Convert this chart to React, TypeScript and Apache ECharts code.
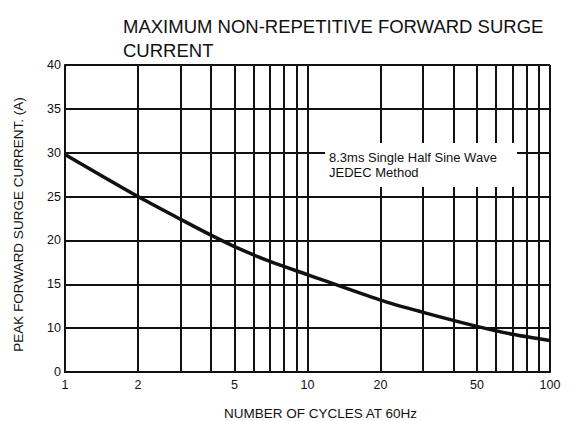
import React, { useEffect, useRef } from "react";
import * as echarts from "echarts";

const cycles = [1, 2, 3, 4, 5, 7, 10, 20, 30, 50, 70, 100];
const surgeCurrent = [29.8, 25.0, 22.4, 20.6, 19.3, 17.6, 16.1, 13.2, 11.8, 10.2, 9.3, 8.6];
const xTickLabels = [1, 2, 5, 10, 20, 50, 100];
const xGridValues = [2, 3, 4, 5, 6, 7, 8, 9, 10, 20, 30, 40, 50, 60, 70, 80, 90, 100];
const yTicks = [5, 10, 15, 20, 25, 30, 35, 40];
const yTickLabels = ["0", "10", "15", "20", "25", "30", "35", "40"];

const FONT = "'Liberation Sans', Arial, sans-serif";
const INK = "#111";

export default function App() {
  const ref = useRef<HTMLDivElement>(null);
  useEffect(() => {
    document.body.style.margin = "0";
    if (!ref.current) return;
    const chart = echarts.init(ref.current, undefined, { renderer: "svg" });
    chart.setOption({
      animation: false,
      backgroundColor: "#fff",
      textStyle: { fontFamily: FONT },
      grid: { left: 65, right: 25, top: 65, bottom: 49, outerBoundsMode: "none", containLabel: false },
      title: {
        text: "MAXIMUM NON-REPETITIVE FORWARD SURGE\nCURRENT",
        left: 118,
        top: 9,
        textStyle: {
          fontFamily: FONT,
          fontSize: 18.5,
          fontWeight: "normal",
          color: INK,
          lineHeight: 24,
        },
      },
      xAxis: {
        type: "log",
        logBase: 10,
        min: 1,
        max: 100,
        name: "NUMBER OF CYCLES AT 60Hz",
        nameLocation: "middle",
        nameGap: 34,
        nameTextStyle: { fontFamily: FONT, fontSize: 13.5, color: INK, padding: [0, 0, 0, 26] },
        axisLine: { lineStyle: { color: INK, width: 2 } },
        axisTick: { show: false },
        splitLine: { show: false },
        minorSplitLine: { show: false },
        axisLabel: {
          customValues: xTickLabels,
          fontFamily: FONT,
          fontSize: 12.5,
          color: INK,
          margin: 6,
        },
      },
      yAxis: {
        type: "value",
        min: 5,
        max: 40,
        interval: 5,
        name: "PEAK FORWARD SURGE CURRENT. (A)",
        nameLocation: "middle",
        nameGap: 40,
        nameTextStyle: { fontFamily: FONT, fontSize: 13.5, color: INK, padding: [0, 12, 0, 0] },
        axisLine: { show: true, lineStyle: { color: INK, width: 2 } },
        axisTick: { show: false },
        splitLine: { show: true, lineStyle: { color: INK, width: 2 } },
        axisLabel: {
          fontFamily: FONT,
          fontSize: 12.5,
          color: INK,
          margin: 4,
          formatter: (v: number) => {
            const i = yTicks.indexOf(v);
            return i >= 0 ? yTickLabels[i] : "";
          },
        },
      },
      series: [
        {
          type: "line",
          smooth: 0.3,
          symbol: "none",
          data: cycles.map((c, i) => [c, surgeCurrent[i]]),
          lineStyle: { color: INK, width: 3.5 },
          z: 5,
          markLine: {
            silent: true,
            symbol: "none",
            label: { show: false },
            lineStyle: { color: INK, width: 2, type: "solid" },
            data: xGridValues.map((v) => ({ xAxis: v })),
            z: 1,
          },
        },
      ],
      graphic: [
        {
          type: "rect",
          z: 100,
          shape: { x: 325, y: 143, width: 192, height: 44 },
          style: { fill: "#fff" },
        },
        {
          type: "text",
          z: 101,
          x: 329,
          y: 150,
          style: {
            text: "8.3ms Single Half Sine Wave\nJEDEC Method",
            font: `normal 13px ${FONT}`,
            fill: INK,
            lineHeight: 15,
          },
        },
      ],
    });
    return () => chart.dispose();
  }, []);
  return <div ref={ref} style={{ width: 575, height: 421 }} />;
}
